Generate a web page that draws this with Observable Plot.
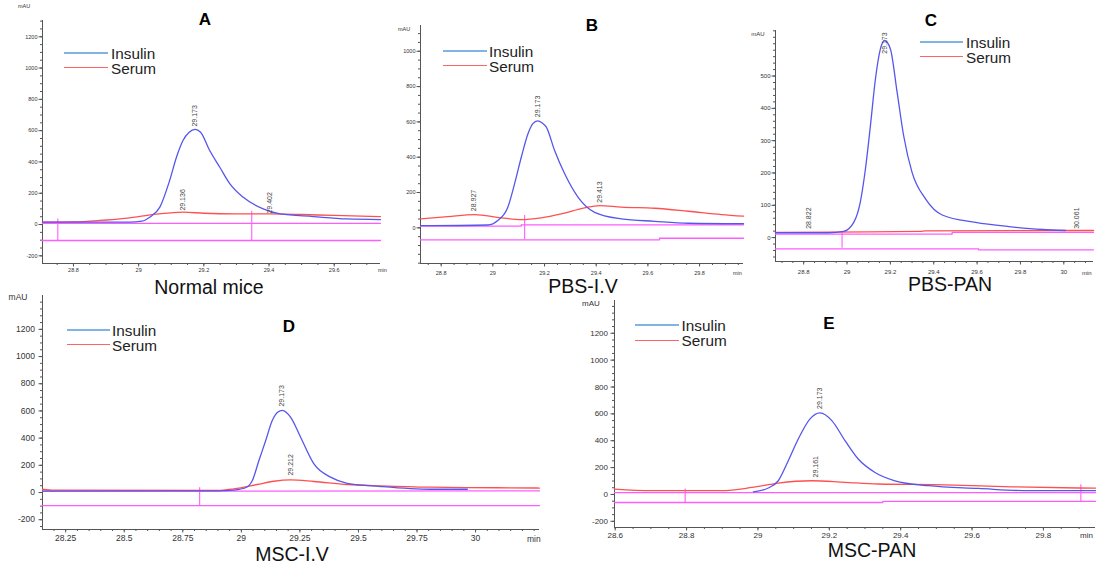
<!DOCTYPE html>
<html><head><meta charset="utf-8">
<script src="https://cdn.jsdelivr.net/npm/d3@7"></script>
<script src="https://cdn.jsdelivr.net/npm/@observablehq/plot@0.6"></script>
<style>
html,body{margin:0;padding:0;background:#fff;}
#fig{position:relative;width:1096px;height:565px;overflow:hidden;font-family:"Liberation Sans",Arial,sans-serif;background:#fff;}
.abs{position:absolute;white-space:nowrap;line-height:1;}
.cap{font-size:19.5px;color:#111;transform:translate(-50%,-50%);line-height:0.9;}
.let{font-size:17px;font-weight:bold;color:#000;transform:translate(-50%,-50%);}
.leg{font-size:15.3px;color:#222;transform:translateY(-50%);line-height:0.85;}
.unitc{color:#333;transform:translate(-50%,-50%);}
.unitl{color:#333;transform:translateY(-50%);}
</style></head><body><div id="fig"></div>
<script>
// ---------- labels ----------
const panelIds = ["A", "B", "C", "D", "E"];
const captions = ["Normal mice", "PBS-I.V", "PBS-PAN", "MSC-I.V", "MSC-PAN"];
const seriesNames = ["Insulin", "Serum"];
const unitY = "mAU", unitX = "min";

// ---------- Panel A (Normal mice) ----------
const aXDom = [28.705, 29.742], aYDom = [-249, 1304];
const aXTicks = [28.8, 29, 29.2, 29.4, 29.6];
const aYTicks = [-200, 0, 200, 400, 600, 800, 1000, 1200];
const aInsT = [28.705, 28.85, 28.972, 29.01, 29.034, 29.065, 29.095, 29.116, 29.136, 29.155, 29.173, 29.19, 29.218, 29.249, 29.28, 29.321, 29.382, 29.434, 29.536, 29.639, 29.742];
const aInsV = [15, 15, 16, 22, 47, 111, 281, 430, 537, 590, 608, 590, 473, 366, 260, 174, 100, 68, 51, 36, 32];
const aSerT = [28.705, 28.8, 28.88, 28.95, 29.0, 29.054, 29.1, 29.136, 29.2, 29.3, 29.4, 29.5, 29.6, 29.742];
const aSerV = [15, 17, 26, 38, 51, 66, 75, 79, 72, 68, 68, 64, 58, 51];
const aUpT = [28.705, 29.742], aUpV = [8, 8];
const aLoT = [28.705, 29.742], aLoV = [-102, -102];
const aEvT = [28.752, 29.347], aEvTop = [36, 85], aEvBot = [-102, -102];
const aPkT = [29.173, 29.136, 29.402], aPkV = [626, 89, 70];

// ---------- Panel B (PBS-I.V) ----------
const bXDom = [28.72, 29.97], bYDom = [-202, 1146];
const bXTicks = [28.8, 29, 29.2, 29.4, 29.6, 29.8];
const bYTicks = [0, 200, 400, 600, 800, 1000];
const bInsT = [28.72, 28.981, 29.019, 29.058, 29.084, 29.11, 29.136, 29.155, 29.173, 29.19, 29.207, 29.239, 29.278, 29.33, 29.394, 29.497, 29.626, 29.756, 29.97];
const bInsV = [12, 16, 41, 117, 249, 400, 533, 590, 606, 595, 570, 438, 306, 173, 88, 51, 37, 26, 23];
const bSerT = [28.72, 28.826, 28.929, 29.032, 29.11, 29.187, 29.265, 29.355, 29.413, 29.497, 29.626, 29.756, 29.885, 29.97];
const bSerV = [51, 64, 75, 57, 47, 57, 79, 113, 126, 117, 111, 94, 75, 66];
const bUpT = [28.72, 29.11, 29.11, 29.97], bUpV = [10, 10, 17, 17];
const bLoT = [28.72, 29.645, 29.645, 29.97], bLoV = [-68, -68, -59, -59];
const bEvT = [29.123], bEvTop = [70], bEvBot = [-68];
const bPkT = [29.173, 28.927, 29.413], bPkV = [627, 94, 142];

// ---------- Panel C (PBS-PAN) ----------
const cXDom = [28.67, 30.137], cYDom = [-74, 641];
const cXTicks = [28.8, 29, 29.2, 29.4, 29.6, 29.8, 30];
const cYTicks = [0, 100, 200, 300, 400, 500];
const cInsT = [28.67, 28.915, 28.984, 29.031, 29.061, 29.085, 29.108, 29.131, 29.154, 29.173, 29.2, 29.231, 29.261, 29.3, 29.362, 29.439, 29.593, 29.747, 29.901, 30.008];
const cInsV = [15, 15, 19, 47, 109, 213, 347, 491, 584, 610, 584, 450, 316, 202, 120, 70, 47, 34, 25, 22];
const cSerT = [28.67, 28.92, 29.34, 29.36, 30.137];
const cSerV = [16, 17, 19, 21, 22];
const cUpT = [28.67, 29.485, 29.485, 30.137], cUpV = [11, 11, 16, 16];
const cLoT = [28.67, 29.607, 29.607, 30.137], cLoV = [-35, -35, -38, -38];
const cEvT = [28.977], cEvTop = [19], cEvBot = [-33];
const cPkT = [29.173, 28.822, 30.061], cPkV = [569, 27, 27];

// ---------- Panel D (MSC-I.V) ----------
const dXDom = [28.151, 30.273], dYDom = [-272, 1449];
const dXTicks = [28.25, 28.5, 28.75, 29, 29.25, 29.5, 29.75, 30];
const dYTicks = [-200, 0, 200, 400, 600, 800, 1000, 1200];
const dInsT = [28.151, 28.9, 28.968, 29.018, 29.047, 29.075, 29.104, 29.132, 29.155, 29.175, 29.21, 29.253, 29.31, 29.381, 29.452, 29.595, 29.808, 29.965];
const dInsV = [10, 12, 18, 35, 88, 235, 382, 529, 590, 604, 554, 407, 211, 113, 68, 44, 24, 24];
const dSerT = [28.151, 28.2, 28.9, 28.968, 29.068, 29.139, 29.21, 29.31, 29.452, 29.595, 29.808, 30.093, 30.273];
const dSerV = [24, 17, 15, 27, 59, 83, 93, 81, 59, 49, 39, 35, 33];
const dUpT = [28.151, 30.273], dUpV = [10, 12];
const dLoT = [28.151, 30.273], dLoV = [-96, -96];
const dEvT = [28.822], dEvTop = [35], dEvBot = [-96];
const dPkT = [29.173, 29.212], dPkV = [632, 125];

// ---------- Panel E (MSC-PAN) ----------
const eXDom = [28.598, 29.946], eYDom = [-246, 1444];
const eXTicks = [28.6, 28.8, 29, 29.2, 29.4, 29.6, 29.8];
const eYTicks = [-200, 0, 200, 400, 600, 800, 1000, 1200];
const eInsT = [28.987, 29.029, 29.057, 29.085, 29.113, 29.146, 29.174, 29.207, 29.244, 29.281, 29.328, 29.384, 29.478, 29.618, 29.758, 29.946];
const eInsV = [20, 48, 102, 251, 413, 563, 607, 550, 401, 264, 164, 102, 65, 45, 28, 28];
const eSerT = [28.598, 28.703, 28.899, 28.983, 29.057, 29.151, 29.244, 29.338, 29.524, 29.711, 29.898, 29.946];
const eSerV = [40, 28, 28, 52, 85, 102, 90, 78, 72, 57, 48, 47];
const eUpT = [28.598, 29.946], eUpV = [13, 13];
const eLoT = [28.598, 29.35, 29.35, 29.946], eLoV = [-60, -60, -52, -52];
const eEvT = [28.796, 29.905], eEvTop = [40, 72], eEvBot = [-60, -60];
const ePkT = [29.173, 29.161], ePkV = [637, 127];

// ---------- styling ----------
const BLUE = "#5656ee", RED = "#ff5050", MAG = "#ff5cff", AXIS = "#555";
const LEG_BLUE = "#80b4e4", LEG_RED = "#ff6464";

const data = [
  {xDom: aXDom, yDom: aYDom, xT: aXTicks, yT: aYTicks, insT: aInsT, insV: aInsV, serT: aSerT, serV: aSerV, upT: aUpT, upV: aUpV, loT: aLoT, loV: aLoV, evT: aEvT, evTop: aEvTop, evBot: aEvBot, pkT: aPkT, pkV: aPkV, yMinor: 50},
  {xDom: bXDom, yDom: bYDom, xT: bXTicks, yT: bYTicks, insT: bInsT, insV: bInsV, serT: bSerT, serV: bSerV, upT: bUpT, upV: bUpV, loT: bLoT, loV: bLoV, evT: bEvT, evTop: bEvTop, evBot: bEvBot, pkT: bPkT, pkV: bPkV, yMinor: 50},
  {xDom: cXDom, yDom: cYDom, xT: cXTicks, yT: cYTicks, insT: cInsT, insV: cInsV, serT: cSerT, serV: cSerV, upT: cUpT, upV: cUpV, loT: cLoT, loV: cLoV, evT: cEvT, evTop: cEvTop, evBot: cEvBot, pkT: cPkT, pkV: cPkV, yMinor: 20},
  {xDom: dXDom, yDom: dYDom, xT: dXTicks, yT: dYTicks, insT: dInsT, insV: dInsV, serT: dSerT, serV: dSerV, upT: dUpT, upV: dUpV, loT: dLoT, loV: dLoV, evT: dEvT, evTop: dEvTop, evBot: dEvBot, pkT: dPkT, pkV: dPkV, yMinor: 50},
  {xDom: eXDom, yDom: eYDom, xT: eXTicks, yT: eYTicks, insT: eInsT, insV: eInsV, serT: eSerT, serV: eSerV, upT: eUpT, upV: eUpV, loT: eLoT, loV: eLoV, evT: eEvT, evTop: eEvTop, evBot: eEvBot, pkT: ePkT, pkV: ePkV, yMinor: 50}
];

// layout in page pixels (frame edges, text anchors)
const layout = [
  {L: 42, R: 380, T: 20, B: 263, fs: 5.5, xPad: 1.5, yPad: 1.5, mau: [24, 7], min: [378, 271], cap: [209, 288], let: [205, 19], leg: [64, 108, 52.5, 67.5, 111]},
  {L: 420, R: 743, T: 25, B: 263, fs: 5.5, xPad: 4, yPad: 1.5, mau: [404, 30], min: [733, 274], cap: [583, 287], let: [592, 25], leg: [443, 487, 50.5, 65.5, 489]},
  {L: 775, R: 1093, T: 30, B: 261, fs: 6, xPad: 5, yPad: 1.5, mau: [758, 34], min: [1082, 273], cap: [950, 285], let: [931, 20], leg: [920, 963, 41.5, 56.5, 966]},
  {L: 42, R: 539, T: 295, B: 529, fs: 8.5, xPad: 2, yPad: 4, mau: [18, 297], min: [527, 539], cap: [292, 555], let: [289, 326], leg: [66.6, 109.8, 329.5, 344.5, 112]},
  {L: 614, R: 1095, T: 300, B: 527, fs: 8, xPad: 1.5, yPad: 3, mau: [591, 304], min: [1080, 536], cap: [872, 551], let: [829, 323], leg: [635.3, 678.8, 325.3, 340.3, 681.6]}
];

const fig = document.getElementById("fig");
function addText(txt, x, y, cls, extra) {
  const d = document.createElement("div");
  d.className = "abs " + cls;
  d.textContent = txt;
  d.style.left = x + "px";
  d.style.top = y + "px";
  if (extra) Object.assign(d.style, extra);
  fig.appendChild(d);
}
function addSwatch(x1, x2, y, color, w) {
  const d = document.createElement("div");
  d.className = "abs";
  Object.assign(d.style, {left: x1 + "px", top: (y - w / 2) + "px", width: (x2 - x1) + "px", height: w + "px", background: color});
  fig.appendChild(d);
}
const zip = (ts, vs) => ts.map((t, i) => ({t, v: vs[i]}));
const inDom = (arr, dom) => arr.filter(v => v >= dom[0] - 1e-9 && v <= dom[1] + 1e-9);

data.forEach((p, k) => {
  const g = layout[k];
  const ml = 50, mr = 20, mt = 20, mb = 25;
  const W = g.R - g.L + ml + mr, H = g.B - g.T + mt + mb;
  const xMinor = inDom(d3.range(Math.ceil(p.xDom[0] / 0.05) * 0.05, p.xDom[1], 0.05), p.xDom);
  const yMinor = inDom(d3.range(Math.ceil(p.yDom[0] / p.yMinor) * p.yMinor, p.yDom[1], p.yMinor), p.yDom);
  const ev = p.evT.map((t, i) => ({t, top: p.evTop[i], bot: p.evBot[i]}));
  const pk = zip(p.pkT, p.pkV);
  const svg = Plot.plot({
    width: W, height: H,
    marginLeft: ml, marginRight: mr, marginTop: mt, marginBottom: mb,
    x: {domain: p.xDom},
    y: {domain: p.yDom},
    style: {background: "transparent", overflow: "visible", fontFamily: "'Liberation Sans', Arial, sans-serif"},
    marks: [
      Plot.axisX(xMinor, {tickSize: 2, tickFormat: () => "", label: null, stroke: AXIS}),
      Plot.axisX(p.xT, {tickSize: 3.5, tickPadding: g.xPad, fontSize: g.fs, tickFormat: d => String(d), label: null, stroke: AXIS, fill: "#333"}),
      Plot.axisY(yMinor, {tickSize: 2, tickFormat: () => "", label: null, stroke: AXIS}),
      Plot.axisY(p.yT, {tickSize: 3.5, tickPadding: g.yPad, fontSize: g.fs, tickFormat: d => String(d), label: null, stroke: AXIS, fill: "#333"}),
      Plot.ruleX([p.xDom[0]], {stroke: AXIS, strokeWidth: 1}),
      Plot.ruleY([p.yDom[0]], {stroke: AXIS, strokeWidth: 1}),
      Plot.line(zip(p.upT, p.upV), {x: "t", y: "v", stroke: MAG, strokeWidth: 1.3}),
      Plot.line(zip(p.loT, p.loV), {x: "t", y: "v", stroke: MAG, strokeWidth: 1.3}),
      Plot.ruleX(ev, {x: "t", y1: "top", y2: "bot", stroke: MAG, strokeWidth: 1.1}),
      Plot.line(zip(p.serT, p.serV), {x: "t", y: "v", stroke: RED, strokeWidth: 1.3, curve: "monotone-x"}),
      Plot.line(zip(p.insT, p.insV), {x: "t", y: "v", stroke: BLUE, strokeWidth: 1.3, curve: "monotone-x"}),
      Plot.text(pk, {x: "t", y: "v", text: d => d.t.toFixed(3), rotate: -90, textAnchor: "start", fontSize: 7, fill: "#444"})
    ]
  });
  const wrap = document.createElement("div");
  wrap.className = "abs";
  Object.assign(wrap.style, {left: (g.L - ml) + "px", top: (g.T - mt) + "px", width: W + "px", height: H + "px"});
  wrap.appendChild(svg);
  fig.appendChild(wrap);

  addText(unitY, g.mau[0], g.mau[1], "unitc", {fontSize: g.fs + "px"});
  addText(unitX, g.min[0], g.min[1], "unitl", {fontSize: g.fs + "px"});
  addText(captions[k], g.cap[0], g.cap[1], "cap");
  addText(panelIds[k], g.let[0], g.let[1], "let");
  addSwatch(g.leg[0], g.leg[1], g.leg[2], LEG_BLUE, 2);
  addSwatch(g.leg[0], g.leg[1], g.leg[3], LEG_RED, 1.5);
  addText(seriesNames[0], g.leg[4], g.leg[2], "leg");
  addText(seriesNames[1], g.leg[4], g.leg[3], "leg");
});
</script></body></html>
